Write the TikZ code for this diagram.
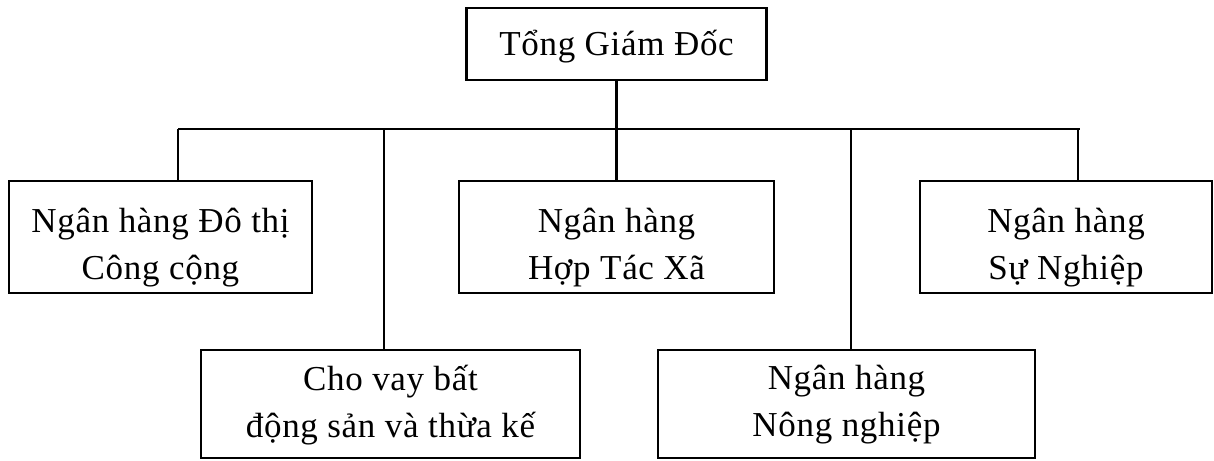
\documentclass[tikz,border=0pt]{standalone}
\usepackage{fontspec}
\setmainfont{Liberation Serif}[LetterSpace=2]
\begin{document}
\begin{tikzpicture}[x=1pt,y=-1pt,
  unit/.style={draw, line width=2.6pt, inner sep=0pt},
  caption/.style={align=center, inner sep=0pt,
    font=\fontsize{35}{47}\selectfont},
  link/.style={line width=2.6pt}]
\useasboundingbox (0,0) rectangle (1214,460);
% boxes of the organisation chart
\node[unit, minimum width=300pt, minimum height=72pt] (ceo) at (616.5,44) {};
\node[unit, minimum width=303pt, minimum height=112pt] (urban) at (160.5,237) {};
\node[unit, minimum width=315pt, minimum height=112pt] (coop) at (616.5,237) {};
\node[unit, minimum width=292pt, minimum height=112pt] (career) at (1066,237) {};
\node[unit, minimum width=379pt, minimum height=108pt] (loan) at (390.5,404) {};
\node[unit, minimum width=377pt, minimum height=108pt] (agri) at (846.5,404) {};
% their captions (yshift is in page direction: negative moves down)
\node[caption] (ceoText) at ([yshift=-3]ceo.center) {Tổng Giám Đốc};
\node[caption] (urbanText) at ([yshift=-11]urban.center) {Ngân hàng Đô thị\\Công cộng};
\node[caption] (coopText) at ([yshift=-11]coop.center) {Ngân hàng\\Hợp Tác Xã};
\node[caption] (careerText) at ([yshift=-11]career.center) {Ngân hàng\\Sự Nghiệp};
\node[caption] (loanText) at ([yshift=-1]loan.center) {Cho vay bất\\động sản và thừa kế};
\node[caption] (agriText) at ([yshift=-1]agri.center) {Ngân hàng\\Nông nghiệp};
% horizontal bus and its tap points
\coordinate (busL) at (178,129);
\coordinate (busR) at (1080,129);
\coordinate (tapUrban) at (178,129);
\coordinate (tapLoan) at (384,129);
\coordinate (tapCoop) at (616.5,129);
\coordinate (tapAgri) at (851,129);
\coordinate (tapCareer) at (1078,129);
\draw[link] (busL) -- (busR);
\draw[link] (ceo.south) -- (tapCoop);
\draw[link] (tapUrban) -- (tapUrban |- urban.north);
\draw[link] (tapLoan) -- (tapLoan |- loan.north);
\draw[link] (tapCoop) -- (coop.north);
\draw[link] (tapAgri) -- (tapAgri |- agri.north);
\draw[link] (tapCareer) -- (tapCareer |- career.north);
\end{tikzpicture}
\end{document}
